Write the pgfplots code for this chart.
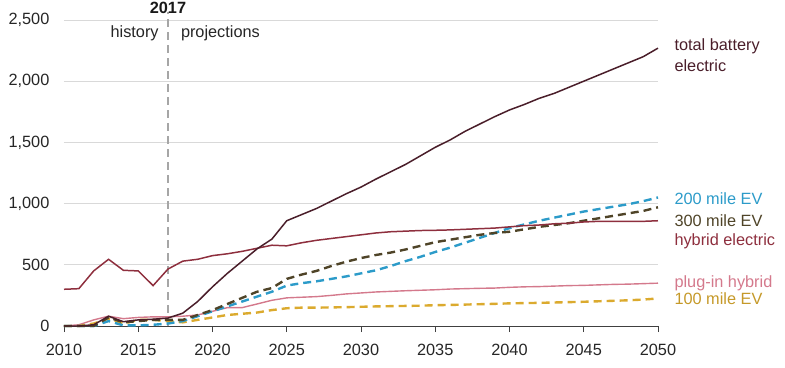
\documentclass[border=0pt]{standalone}
\usepackage{pgfplots}
\pgfplotsset{compat=1.18}
\usepackage{fontspec}
\setmainfont{Liberation Sans}
\definecolor{totalbat}{HTML}{4A1E2A}
\definecolor{hybrid}{HTML}{8E2F3E}
\definecolor{mileA}{HTML}{2C9BC9}
\definecolor{mileB}{HTML}{4F4428}
\definecolor{plugin}{HTML}{D4798C}
\definecolor{mileC}{HTML}{DBAA2E}
\definecolor{gridc}{HTML}{D9D9D9}
\definecolor{axisc}{HTML}{404040}
\begin{document}
\fontsize{16.3bp}{19bp}\selectfont
\begin{tikzpicture}
\path[use as bounding box] (-64bp,-42bp) rectangle (721bp,326bp);
\begin{axis}[
  at={(0,0)}, anchor=south west,
  scale only axis, width=594bp, height=306bp,
  xmin=2010, xmax=2050, ymin=0, ymax=2500,
  clip=false,
  axis x line*=bottom, axis y line*=left,
  y axis line style={draw=none},
  x axis line style={draw=axisc, line width=1pt},
  xtick={2010,2015,...,2050},
  xticklabels={2010,2015,2020,2025,2030,2035,2040,2045,2050},
  ytick={0,500,1000,1500,2000,2500},
  yticklabels={0,500,{1,000},{1,500},{2,000},{2,500}},
  xtick align=outside, major tick length=6bp,
  xtick style={draw=axisc, line width=0.8pt},
  ytick style={draw=none},
  ymajorgrids, grid style={gridc, line width=0.8pt},
  tick label style={font=\fontsize{16.3bp}{19bp}\selectfont, text=black!85},
  yticklabel style={xshift=-9bp},
  xticklabel style={yshift=-6bp},
  /pgf/number format/assume math mode=true,
]
\addplot[gray!70, line width=1.2pt, dash pattern=on 8bp off 5bp] coordinates {(2017,0) (2017,2565)};
\addplot[plugin, line width=1.4pt] coordinates {
(2010,0)(2011,10)(2012,50)(2013,80)(2014,60)(2015,70)(2016,75)(2017,75)(2018,80)(2019,90)
(2020,120)(2021,150)(2022,150)(2023,180)(2024,210)(2025,230)(2026,235)(2027,240)(2028,250)(2029,262)
(2030,270)(2031,278)(2032,283)(2033,288)(2034,292)(2035,296)(2036,302)(2037,305)(2038,308)(2039,310)
(2040,316)(2041,320)(2042,322)(2043,326)(2044,330)(2045,332)(2046,336)(2047,340)(2048,342)(2049,346)(2050,350)};
\addplot[mileC, line width=2.4pt, dash pattern=on 8bp off 5bp] coordinates {
(2010,0)(2011,0)(2012,20)(2013,60)(2014,20)(2015,50)(2016,50)(2017,40)(2018,30)(2019,50)
(2020,70)(2021,90)(2022,100)(2023,110)(2024,130)(2025,145)(2026,150)(2027,150)(2028,152)(2029,154)
(2030,157)(2031,160)(2032,162)(2033,164)(2034,166)(2035,170)(2036,172)(2037,175)(2038,178)(2039,181)
(2040,185)(2041,187)(2042,189)(2043,192)(2044,195)(2045,198)(2046,202)(2047,206)(2048,210)(2049,216)(2050,225)};
\addplot[mileA, line width=2.4pt, dash pattern=on 8bp off 5bp] coordinates {
(2010,0)(2011,0)(2012,0)(2013,40)(2014,5)(2015,5)(2016,10)(2017,20)(2018,40)(2019,80)
(2020,120)(2021,160)(2022,200)(2023,240)(2024,280)(2025,330)(2026,350)(2027,365)(2028,385)(2029,405)
(2030,430)(2031,455)(2032,490)(2033,530)(2034,565)(2035,605)(2036,640)(2037,680)(2038,720)(2039,760)
(2040,800)(2041,830)(2042,860)(2043,885)(2044,910)(2045,935)(2046,955)(2047,975)(2048,995)(2049,1020)(2050,1050)};
\addplot[mileB, line width=2.4pt, dash pattern=on 8bp off 5bp] coordinates {
(2010,0)(2011,0)(2012,0)(2013,70)(2014,30)(2015,40)(2016,50)(2017,50)(2018,50)(2019,90)
(2020,130)(2021,180)(2022,230)(2023,280)(2024,310)(2025,385)(2026,420)(2027,450)(2028,490)(2029,525)
(2030,555)(2031,580)(2032,600)(2033,625)(2034,655)(2035,685)(2036,705)(2037,725)(2038,745)(2039,760)
(2040,770)(2041,790)(2042,810)(2043,825)(2044,840)(2045,860)(2046,880)(2047,900)(2048,920)(2049,940)(2050,970)};
\addplot[hybrid, line width=1.5pt] coordinates {
(2010,300)(2011,305)(2012,450)(2013,545)(2014,455)(2015,450)(2016,330)(2017,465)(2018,530)(2019,545)
(2020,575)(2021,590)(2022,610)(2023,635)(2024,660)(2025,655)(2026,680)(2027,700)(2028,715)(2029,730)
(2030,745)(2031,760)(2032,770)(2033,775)(2034,780)(2035,782)(2036,785)(2037,790)(2038,795)(2039,800)
(2040,810)(2041,820)(2042,825)(2043,835)(2044,840)(2045,850)(2046,855)(2047,855)(2048,855)(2049,855)(2050,860)};
\addplot[totalbat, line width=1.5pt] coordinates {
(2010,0)(2011,0)(2012,10)(2013,80)(2014,35)(2015,50)(2016,55)(2017,65)(2018,105)(2019,200)
(2020,320)(2021,430)(2022,530)(2023,630)(2024,710)(2025,860)(2026,910)(2027,960)(2028,1020)(2029,1080)
(2030,1135)(2031,1200)(2032,1260)(2033,1320)(2034,1390)(2035,1460)(2036,1520)(2037,1590)(2038,1650)(2039,1710)
(2040,1765)(2041,1810)(2042,1860)(2043,1900)(2044,1950)(2045,2000)(2046,2050)(2047,2100)(2048,2150)(2049,2200)(2050,2270)};
\node[font=\bfseries, anchor=base, text=black!90] at (axis cs:2017,2555) {2017};
\node[anchor=east, text=black!85] at (axis cs:2016.75,2390) {history};
\node[anchor=west, text=black!85] at (axis cs:2017.5,2390) {projections};
\node[anchor=west, text=totalbat, inner sep=0pt] at (axis cs:2051.1,2288) {total battery};
\node[anchor=west, text=totalbat, inner sep=0pt] at (axis cs:2051.1,2124) {electric};
\node[anchor=west, text=mileA, inner sep=0pt] at (axis cs:2051.1,1037) {200 mile EV};
\node[anchor=west, text=mileB, inner sep=0pt] at (axis cs:2051.1,858) {300 mile EV};
\node[anchor=west, text=hybrid, inner sep=0pt] at (axis cs:2051.1,694) {hybrid electric};
\node[anchor=west, text=plugin, inner sep=0pt] at (axis cs:2051.1,351) {plug-in hybrid};
\node[anchor=west, text=mileC!90!black, inner sep=0pt] at (axis cs:2051.1,221) {100 mile EV};
\end{axis}
\end{tikzpicture}
\end{document}
